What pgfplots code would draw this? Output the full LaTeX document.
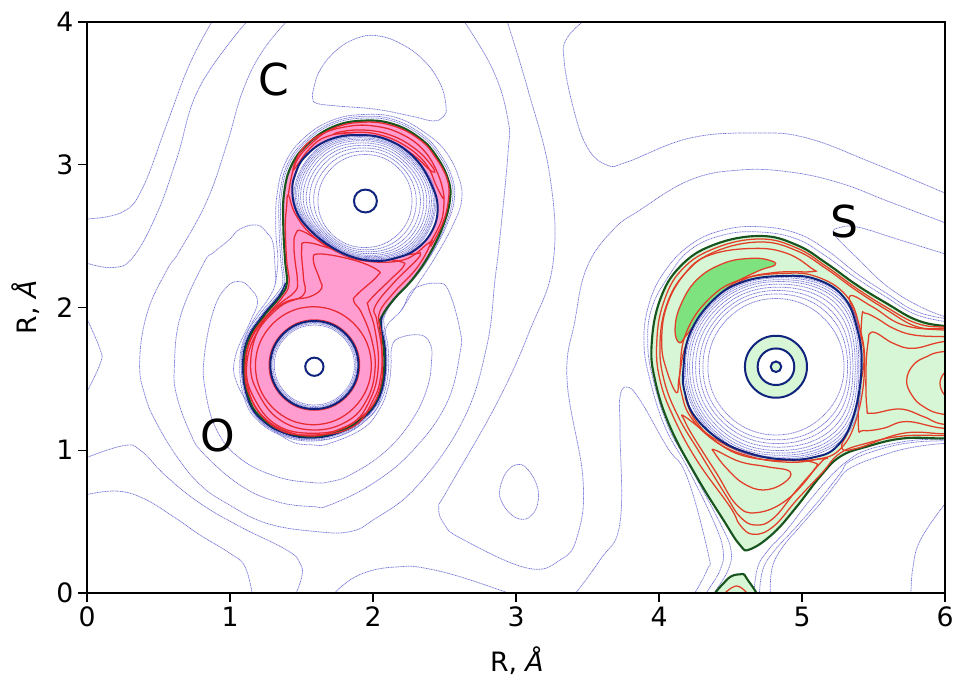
\documentclass[border=0pt]{standalone}
\usepackage{fontspec}
\setmainfont{DejaVu Sans}
\usepackage{pgfplots}
\pgfplotsset{compat=1.18}
\definecolor{blu}{RGB}{118,118,214}
\definecolor{navy1}{RGB}{16,36,125}
\definecolor{grn}{RGB}{24,84,30}
\definecolor{redc}{RGB}{226,62,40}
\definecolor{redp}{RGB}{232,42,50}
\definecolor{pinkf}{RGB}{255,156,208}
\definecolor{lgreen}{RGB}{214,246,214}
\definecolor{mgreen}{RGB}{126,226,126}
\pgfplotsset{
  ob/.style={color=blu,line width=.55pt,dash pattern=on .8pt off .45pt,smooth,tension=.7},
  cb/.style={color=blu,line width=.55pt,dash pattern=on .8pt off .45pt,smooth cycle,tension=.7},
  op/.style={color=redp,line width=.95pt,smooth,tension=.7},
  cp/.style={color=redp,line width=.95pt,smooth cycle,tension=.7},
  og/.style={color=redc,line width=.95pt,smooth,tension=.7},
  cg/.style={color=redc,line width=.95pt,smooth cycle,tension=.7},
  nv/.style={color=navy1,line width=1.5pt,smooth cycle,tension=.7},
  wh/.style={fill=white,draw=none,smooth cycle,tension=.7},
}
\begin{document}
\begin{tikzpicture}
\useasboundingbox (-65.25pt,-62.25pt) rectangle (649.5pt,444.75pt);
\begin{axis}[
  scale only axis,width=643.5pt,height=428.25pt,
  xmin=0,xmax=6,ymin=0,ymax=4,
  xtick={0,1,2,3,4,5,6},ytick={0,1,2,3,4},
  tick align=outside,tick pos=left,
  major tick length=6.75pt,
  every tick/.style={black,line width=1pt},
  axis line style={line width=1.3pt,black},
  axis on top,no markers,
  /pgf/number format/assume math mode=true,
  tick label style={font=\fontsize{20}{24}\selectfont},
  label style={font=\fontsize{20}{20}\selectfont,inner sep=0pt},
  xlabel={R, \textit{Å}},ylabel={R, \textit{Å}},
  xlabel style={at={(axis description cs:0.501,-0.118)},anchor=center},
  ylabel style={at={(axis description cs:-0.071,0.5)},anchor=center},
]
% ---- outer thin contours
\addplot[ob] coordinates {(0,2.62)(.25,2.67)(.39,2.84)(.56,3.29)(.72,3.71)(.89,4.03)};
\addplot[ob] coordinates {(0,2.31)(.18,2.28)(.32,2.35)(.49,2.66)(.63,3.05)(.79,3.55)(1.14,4.03)};
\addplot[ob] coordinates {(1.42,4.03)(1.23,3.80)(1.09,3.52)(.98,3.15)(.84,2.75)(.65,2.40)(.559,2.263)(.420,1.959)(.368,1.609)(.408,1.376)(.488,1.188)(.629,.955)(.79,.76)(.977,.628)(1.257,.488)(1.606,.430)(1.839,.430)(2.002,.512)(2.305,.745)(2.631,1.212)(2.795,1.726)(2.853,2.193)(2.888,2.494)(2.944,3.082)(2.944,3.314)(2.839,3.664)(2.62,4.03)};
\addplot[ob] coordinates {(0,1.92)(.093,1.702)(.093,1.609)(0,1.41)};
\addplot[ob] coordinates {(0,.95)(.254,1.032)(.371,1.002)(.557,.815)(.791,.628)(1.070,.465)(1.397,.301)(1.490,.208)(1.502,.114)(1.45,-.03)};
\addplot[ob] coordinates {(0,.69)(.208,.714)(.394,.663)(.604,.535)(.791,.406)(1.000,.278)(1.105,.184)(1.16,-.03)};
\addplot[ob] coordinates {(1.70,-.03)(1.839,.091)(2.0,.16)(2.189,.184)(2.329,.180)(2.609,.114)(3.03,-.03)};
\addplot[cb] coordinates {(3.016,.901)(3.086,.861)(3.149,.745)(3.152,.628)(3.110,.546)(3.040,.516)(2.958,.558)(2.895,.651)(2.888,.733)(2.935,.850)};
\addplot[ob] coordinates {(2.93,4.03)(3.084,3.524)(3.238,2.914)(3.259,2.312)(3.098,1.842)(2.867,1.331)(2.52,.72)(2.46,.60)(2.50,.48)(2.62,.38)(3.077,.175)(3.308,.231)(3.427,.392)(3.469,.792)(3.357,1.492)(3.413,1.912)(3.497,2.284)(3.678,2.543)(3.867,2.683)(4.217,2.893)(4.566,2.963)(4.916,2.949)(5.266,2.872)(5.615,2.739)(6.05,2.575)};
\addplot[ob] coordinates {(3.50,4.03)(3.357,3.888)(3.336,3.734)(3.399,3.405)(3.497,3.124)(3.636,2.998)(3.776,3.019)(4.217,3.187)(4.685,3.222)(5.035,3.187)(5.497,3.012)(6.05,2.78)};
\addplot[ob] coordinates {(3.38,-.05)(3.587,.231)(3.727,.490)(3.727,1.142)(3.727,1.373)(3.776,1.443)(3.867,1.352)(4.056,1.023)(4.196,.813)(4.343,.280)(4.336,.161)(4.22,-.05)};
\addplot[cb] coordinates {(1.583,3.524)(1.630,3.664)(1.746,3.804)(1.886,3.886)(2.026,3.904)(2.189,3.851)(2.352,3.734)(2.469,3.570)(2.511,3.407)(2.492,3.337)(2.422,3.307)(2.283,3.337)(2.026,3.388)(1.746,3.412)(1.607,3.430)(1.579,3.465)};
\addplot[ob] coordinates {(6.05,2.36)(5.685,2.473)(5.385,2.564)(5.252,2.557)(5.217,2.529)(5.245,2.487)(5.385,2.347)(5.601,2.144)(5.846,1.996)(6.05,1.92)};
\addplot[ob] coordinates {(6.05,.69)(5.839,.392)(5.776,.182)(5.762,-.03)};
% crescents around the O lobe
\addplot[cb] coordinates {(1.072,2.181)(1.142,2.134)(1.193,2.041)(1.142,1.901)(1.037,1.656)(1.049,1.469)(1.189,1.259)(1.40,1.075)(1.583,1.037)(1.699,1.049)(1.932,1.154)(2.049,1.294)(2.107,1.446)(2.126,1.586)(2.130,1.714)(2.177,1.784)(2.328,1.808)(2.398,1.749)(2.410,1.633)(2.375,1.422)(2.258,1.189)(2.072,.979)(1.839,.827)(1.699,.780)(1.583,.773)(1.327,.815)(1.070,.943)(.907,1.142)(.827,1.422)(.820,1.656)(.886,1.983)(.979,2.146)};
\addplot[cb] coordinates {(1.189,2.578)(1.259,2.522)(1.301,2.450)(1.315,2.283)(1.317,2.169)(1.270,2.064)(1.165,1.913)(1.095,1.749)(1.077,1.586)(1.107,1.422)(1.190,1.230)(1.360,1.112)(1.583,1.072)(1.80,1.115)(2.002,1.259)(2.060,1.40)(2.084,1.492)(2.091,1.656)(2.084,1.726)(2.095,1.866)(2.200,1.983)(2.258,2.100)(2.328,2.151)(2.445,2.170)(2.526,2.123)(2.608,1.843)(2.608,1.679)(2.515,1.329)(2.282,1.002)(2.002,.769)(1.699,.617)(1.583,.605)(1.327,.640)(1.070,.756)(.814,.978)(.723,1.119)(.629,1.376)(.611,1.586)(.653,1.936)(.816,2.310)(.881,2.382)(.993,2.473)(1.07,2.55)};
% rings hugging CO
\addplot[ob] coordinates {(2.200,1.983)(2.317,2.170)(2.44,2.36)(2.56,2.58)(2.620,2.753)(2.60,2.91)(2.51,3.09)(2.37,3.22)(2.165,3.33)(1.932,3.352)(1.71,3.31)(1.52,3.19)(1.39,3.02)(1.33,2.80)(1.32,2.55)(1.335,2.33)(1.317,2.169)};
\addplot[cb] coordinates {(1.932,3.339)(2.150,3.315)(2.351,3.207)(2.471,3.073)(2.556,2.902)(2.568,2.753)(2.520,2.588)(2.424,2.397)(2.305,2.224)(2.165,2.072)(2.085,1.952)(2.079,1.866)(2.107,1.702)(2.102,1.510)(2.052,1.338)(1.950,1.211)(1.802,1.114)(1.583,1.065)(1.363,1.102)(1.189,1.214)(1.100,1.365)(1.068,1.585)(1.101,1.787)(1.209,1.954)(1.328,2.097)(1.369,2.179)(1.355,2.333)(1.343,2.566)(1.348,2.795)(1.405,3.012)(1.530,3.173)(1.713,3.295)};
\addplot[cb] coordinates {(1.932,3.327)(2.147,3.303)(2.342,3.198)(2.461,3.066)(2.544,2.899)(2.556,2.753)(2.509,2.584)(2.414,2.390)(2.296,2.216)(2.156,2.064)(2.076,1.945)(2.067,1.866)(2.095,1.702)(2.090,1.512)(2.042,1.344)(1.943,1.220)(1.798,1.125)(1.583,1.077)(1.367,1.113)(1.197,1.222)(1.111,1.369)(1.080,1.585)(1.112,1.781)(1.219,1.947)(1.337,2.088)(1.379,2.175)(1.367,2.333)(1.355,2.566)(1.360,2.797)(1.415,3.006)(1.537,3.164)(1.717,3.284)};
% rings hugging S
\addplot[ob] coordinates {(6.05,1.915)(5.802,1.971)(5.592,2.099)(5.382,2.239)(5.172,2.403)(4.963,2.520)(4.706,2.566)(4.450,2.543)(4.217,2.438)(4.030,2.239)(3.925,2.006)(3.895,1.749)(3.937,1.492)(4.042,1.163)(4.196,.883)(4.378,.511)(4.448,.301)(4.427,.161)(4.336,.007)(4.30,-.07)};
\addplot[ob] coordinates {(6.05,1.895)(5.802,1.948)(5.592,2.071)(5.382,2.204)(5.172,2.356)(4.963,2.480)(4.706,2.529)(4.450,2.508)(4.217,2.403)(4.065,2.216)(3.949,1.994)(3.921,1.749)(3.960,1.492)(4.065,1.163)(4.203,.911)(4.427,.490)(4.503,.301)(4.483,.161)(4.392,.007)(4.36,-.07)};
\addplot[ob] coordinates {(4.66,-.05)(4.688,.173)(4.764,.301)(4.893,.441)(5.056,.652)(5.219,.838)(5.359,.955)(5.45,1.0)(5.569,1.032)(5.802,1.072)(6.05,1.076)};
\addplot[ob] coordinates {(4.70,-.05)(4.725,.161)(4.811,.301)(4.939,.441)(5.102,.628)(5.266,.835)(5.336,.925)(5.569,1.014)(5.802,1.058)(6.05,1.066)};
\addplot[ob] coordinates {(4.78,-.05)(4.788,.161)(4.858,.313)(4.986,.465)(5.149,.652)(5.240,.770)(5.336,.874)(5.569,.967)(5.802,1.026)(6.05,1.052)};
% ---- CO filled region
\addplot[fill=pinkf,draw=grn,line width=1.6pt,smooth cycle,tension=.7] coordinates {(1.932,3.309)(2.142,3.285)(2.329,3.185)(2.446,3.056)(2.527,2.893)(2.538,2.753)(2.492,2.578)(2.399,2.380)(2.282,2.205)(2.142,2.053)(2.061,1.936)(2.049,1.866)(2.077,1.702)(2.072,1.515)(2.026,1.352)(1.932,1.235)(1.792,1.142)(1.583,1.095)(1.373,1.130)(1.210,1.235)(1.128,1.375)(1.098,1.585)(1.128,1.772)(1.233,1.936)(1.350,2.076)(1.397,2.170)(1.385,2.333)(1.373,2.566)(1.378,2.800)(1.431,2.998)(1.548,3.150)(1.723,3.267)};
\addplot[color=navy1,line width=1pt,smooth,tension=.7] coordinates {(2.065,1.94)(2.058,1.866)(2.086,1.702)(2.081,1.513)(2.034,1.348)(1.938,1.228)(1.795,1.134)(1.583,1.086)(1.370,1.122)(1.204,1.229)(1.120,1.372)(1.089,1.585)(1.120,1.776)(1.226,1.941)(1.344,2.082)(1.388,2.172)};
% CO red contours
\addplot[cp] coordinates {(1.443,2.964)(1.501,3.104)(1.629,3.209)(1.816,3.267)(2.002,3.272)(2.189,3.220)(2.352,3.104)(2.457,2.929)(2.496,2.765)(2.445,2.847)(2.375,2.999)(2.235,3.127)(2.049,3.209)(1.862,3.227)(1.676,3.197)(1.559,3.115)};
\addplot[cp] coordinates {(1.734,3.220)(1.909,3.244)(2.119,3.209)(2.305,3.104)(2.422,2.975)(2.403,2.959)(2.259,3.085)(2.049,3.185)(1.862,3.213)};
\addplot[op] coordinates {(2.496,2.765)(2.480,2.613)(2.394,2.445)};
\addplot[op] coordinates {(1.408,2.788)(1.454,2.999)(1.559,3.139)(1.723,3.255)(1.932,3.298)(2.142,3.272)(2.329,3.174)(2.441,3.045)(2.520,2.894)(2.527,2.753)(2.487,2.590)(2.403,2.427)};
\addplot[cp] coordinates {(1.988,1.592)(1.869,1.884)(1.583,2.005)(1.297,1.884)(1.178,1.592)(1.297,1.300)(1.583,1.179)(1.869,1.300)};
\addplot[cp] coordinates {(1.906,1.597)(1.813,1.820)(1.590,1.913)(1.367,1.820)(1.274,1.597)(1.367,1.374)(1.590,1.281)(1.813,1.374)};
\addplot[cp] coordinates {(1.641,2.135)(1.559,2.076)(1.373,2.030)(1.210,1.866)(1.144,1.609)(1.198,1.399)(1.350,1.212)(1.583,1.142)(1.816,1.201)(1.956,1.353)(2.014,1.563)(1.991,1.773)(1.921,1.960)(1.867,2.041)(1.886,2.088)(2.026,2.216)(2.030,2.263)(1.862,2.333)(1.629,2.375)(1.583,2.333)(1.629,2.193)};
\addplot[cp] coordinates {(1.501,2.403)(1.536,2.455)(1.746,2.403)(1.979,2.357)(2.189,2.322)(2.212,2.287)(2.119,2.193)(1.979,2.053)(1.967,2.006)(2.014,1.843)(2.037,1.586)(1.979,1.353)(1.839,1.177)(1.583,1.119)(1.326,1.177)(1.163,1.376)(1.116,1.586)(1.186,1.820)(1.350,2.006)(1.513,2.088)(1.513,2.216)};
\addplot[cp] coordinates {(1.447,2.450)(1.461,2.520)(1.513,2.532)(1.723,2.415)(1.979,2.345)(2.282,2.375)(2.329,2.380)(2.305,2.333)(2.142,2.170)(2.014,2.006)(2.026,1.913)(2.061,1.703)(2.054,1.516)(2.002,1.353)(1.862,1.166)(1.583,1.107)(1.326,1.154)(1.151,1.353)(1.105,1.586)(1.163,1.820)(1.326,2.006)(1.454,2.111)(1.471,2.193)(1.454,2.333)};
\addplot[cp] coordinates {(1.408,2.788)(1.454,2.660)(1.559,2.520)(1.723,2.403)(1.932,2.328)(2.212,2.333)(2.387,2.450)(2.399,2.438)(2.305,2.275)(2.142,2.100)(2.044,1.960)(2.056,1.820)(2.065,1.633)(2.061,1.493)(2.014,1.341)(1.921,1.236)(1.781,1.154)(1.583,1.100)(1.373,1.142)(1.221,1.247)(1.140,1.387)(1.112,1.586)(1.140,1.761)(1.245,1.925)(1.361,2.065)(1.413,2.165)(1.396,2.333)(1.387,2.567)(1.396,2.707)};
% ---- S filled region
\addplot[fill=lgreen,draw=grn,line width=1.6pt,smooth cycle,tension=.7] coordinates {(4.706,2.501)(4.963,2.438)(5.172,2.309)(5.382,2.158)(5.592,2.029)(5.802,1.912)(6.000,1.870)(6.2,1.861)(6.2,1.095)(6.000,1.083)(5.708,1.083)(5.452,1.025)(5.266,.955)(5.126,.815)(4.963,.605)(4.799,.418)(4.636,.306)(4.566,.336)(4.450,.512)(4.263,.815)(4.077,1.165)(3.972,1.492)(3.949,1.749)(4.007,2.053)(4.147,2.286)(4.380,2.438)};
\addplot[fill=lgreen,draw=grn,line width=1.6pt,smooth cycle,tension=.7] coordinates {(4.38,-.07)(4.473,.091)(4.566,.131)(4.613,.103)(4.683,-.07)};
\addplot[og] coordinates {(4.43,-.03)(4.543,.049)(4.64,-.03)};
\addplot[fill=mgreen,draw=redc,line width=.95pt,smooth cycle,tension=.7] coordinates {(4.142,1.754)(4.112,1.842)(4.147,2.006)(4.263,2.193)(4.450,2.309)(4.636,2.344)(4.764,2.333)(4.811,2.298)(4.683,2.251)(4.473,2.134)(4.310,1.959)(4.193,1.807)};
% S red contours
\addplot[cg] coordinates {(4.123,1.403)(4.053,1.562)(4.019,1.749)(4.053,2.006)(4.182,2.239)(4.357,2.368)(4.660,2.414)(4.893,2.380)(5.067,2.274)(5.067,2.251)(4.799,2.244)(4.566,2.181)(4.333,1.983)(4.193,1.749)(4.142,1.516)};
\addplot[og] coordinates {(6.2,1.86)(6.0,1.862)(5.802,1.889)(5.592,2.001)(5.382,2.134)(5.172,2.286)(4.963,2.417)(4.706,2.480)(4.391,2.415)(4.158,2.263)(4.030,2.029)(3.984,1.749)(4.007,1.492)(4.100,1.235)(4.263,.932)(4.496,.605)(4.566,.477)(4.660,.411)(4.799,.465)(4.963,.652)(5.137,.838)(5.266,.979)(5.452,1.049)(5.708,1.100)(6.0,1.103)(6.2,1.103)};
\addplot[og] coordinates {(6.2,1.85)(6.0,1.852)(5.802,1.866)(5.592,1.983)(5.382,2.118)(5.172,2.270)(4.963,2.398)(4.706,2.459)(4.391,2.391)(4.182,2.239)(4.053,2.018)(4.007,1.749)(4.035,1.492)(4.135,1.235)(4.287,.979)(4.473,.675)(4.566,.535)(4.671,.476)(4.799,.523)(4.963,.722)(5.137,.920)(5.161,.941)(4.963,.927)(4.636,.950)(4.415,1.049)(4.252,1.212)(4.182,1.375)};
\addplot[cg] coordinates {(4.182,1.235)(4.403,1.072)(4.636,.971)(4.893,.936)(5.079,.915)(5.084,.862)(4.893,.652)(4.683,.563)(4.543,.617)(4.403,.838)(4.240,1.095)(4.177,1.212)};
\addplot[cg] coordinates {(4.391,1.002)(4.566,.920)(4.753,.885)(4.916,.850)(4.869,.768)(4.729,.722)(4.590,.768)(4.473,.873)(4.391,.978)};
\addplot[cg] coordinates {(5.336,2.081)(5.499,2.001)(5.708,1.877)(6.0,1.842)(6.268,1.84)(6.268,1.115)(6.0,1.115)(5.708,1.119)(5.382,1.013)(5.277,1.020)(5.336,1.165)(5.405,1.445)(5.433,1.679)(5.382,1.912)};
\addplot[cg] coordinates {(5.394,1.177)(5.406,1.586)(5.418,1.925)(5.441,1.960)(5.522,1.925)(5.639,1.854)(5.779,1.808)(5.989,1.796)(6.268,1.796)(6.268,1.154)(5.989,1.154)(5.732,1.201)(5.569,1.154)(5.429,1.138)};
\addplot[cg] coordinates {(5.464,1.773)(5.476,1.820)(5.522,1.820)(5.639,1.749)(5.779,1.714)(5.989,1.761)(6.268,1.784)(6.268,1.166)(5.989,1.182)(5.849,1.236)(5.686,1.289)(5.488,1.259)(5.453,1.306)(5.448,1.586)};
\addplot[cg] coordinates {(5.732,1.493)(5.779,1.598)(5.872,1.656)(5.989,1.691)(6.268,1.703)(6.268,1.236)(5.989,1.252)(5.849,1.306)(5.767,1.388)};
\addplot[og] coordinates {(6.05,1.56)(5.995,1.54)(5.965,1.469)(5.995,1.39)(6.05,1.37)};
\addplot[cg] coordinates {(4.869,2.239)(5.102,2.216)(5.308,2.085)(5.401,1.870)(5.438,1.586)(5.382,1.224)(5.261,1.002)(5.079,.932)(4.869,.918)(4.625,.960)(4.408,1.053)(4.228,1.224)(4.158,1.399)(4.147,1.562)(4.193,1.831)(4.361,2.071)(4.578,2.197)};
% ---- holes
\addplot[wh] coordinates {(1.897,3.208)(2.107,3.173)(2.294,3.045)(2.410,2.858)(2.452,2.695)(2.410,2.531)(2.294,2.403)(2.154,2.345)(2.014,2.326)(1.851,2.356)(1.687,2.438)(1.548,2.555)(1.466,2.671)(1.436,2.811)(1.455,2.928)(1.524,3.056)(1.687,3.173)};
\addplot[wh] coordinates {(1.898,1.597)(1.808,1.815)(1.590,1.905)(1.372,1.815)(1.282,1.597)(1.372,1.379)(1.590,1.289)(1.808,1.379)};
\addplot[wh] coordinates {(4.869,2.221)(5.102,2.197)(5.289,2.076)(5.382,1.866)(5.417,1.586)(5.359,1.235)(5.242,1.025)(5.079,.950)(4.869,.936)(4.636,.978)(4.426,1.072)(4.252,1.235)(4.182,1.399)(4.170,1.562)(4.217,1.819)(4.380,2.053)(4.590,2.181)};
% C rings
\addplot[cb] coordinates {(2.273,2.746)(2.176,2.978)(1.944,3.072)(1.712,2.978)(1.615,2.746)(1.712,2.514)(1.944,2.420)(2.176,2.514)};
\addplot[cb] coordinates {(2.303,2.750)(2.190,2.996)(1.944,3.096)(1.693,3.001)(1.585,2.750)(1.700,2.506)(1.944,2.404)(2.198,2.496)};
\addplot[cb] coordinates {(2.332,2.754)(2.203,3.013)(1.944,3.118)(1.675,3.023)(1.556,2.754)(1.689,2.499)(1.944,2.390)(2.218,2.480)};
\addplot[cb] coordinates {(2.355,2.757)(2.214,3.027)(1.944,3.136)(1.660,3.041)(1.533,2.757)(1.680,2.493)(1.944,2.378)(2.235,2.466)};
\addplot[cb] coordinates {(2.376,2.760)(2.224,3.040)(1.944,3.153)(1.646,3.058)(1.512,2.760)(1.671,2.487)(1.944,2.367)(2.250,2.454)};
\addplot[cb] coordinates {(2.394,2.763)(2.232,3.051)(1.944,3.168)(1.635,3.072)(1.494,2.763)(1.664,2.483)(1.944,2.358)(2.263,2.444)};
\addplot[cb] coordinates {(2.408,2.765)(2.239,3.060)(1.944,3.179)(1.626,3.083)(1.480,2.765)(1.659,2.480)(1.944,2.351)(2.273,2.436)};
\addplot[cb] coordinates {(2.421,2.766)(2.245,3.067)(1.944,3.188)(1.618,3.092)(1.467,2.766)(1.654,2.476)(1.944,2.344)(2.282,2.428)};
\addplot[cb] coordinates {(2.431,2.768)(2.250,3.074)(1.944,3.197)(1.611,3.101)(1.457,2.768)(1.650,2.474)(1.944,2.339)(2.290,2.422)};
\addplot[cb] coordinates {(2.440,2.769)(2.254,3.079)(1.944,3.204)(1.606,3.107)(1.448,2.769)(1.646,2.471)(1.944,2.334)(2.296,2.417)};
% O rings
\addplot[cb] coordinates {(1.870,1.597)(1.788,1.795)(1.590,1.877)(1.392,1.795)(1.310,1.597)(1.392,1.399)(1.590,1.317)(1.788,1.399)};
\addplot[cb] coordinates {(1.880,1.597)(1.795,1.802)(1.590,1.887)(1.385,1.802)(1.300,1.597)(1.385,1.392)(1.590,1.307)(1.795,1.392)};
\addplot[cb] coordinates {(1.888,1.597)(1.801,1.808)(1.590,1.895)(1.379,1.808)(1.292,1.597)(1.379,1.386)(1.590,1.299)(1.801,1.386)};
% S rings
\addplot[cb] coordinates {(5.294,1.585)(5.155,1.922)(4.818,2.063)(4.481,1.922)(4.342,1.585)(4.481,1.248)(4.818,1.107)(5.155,1.248)};
\addplot[cb] coordinates {(5.319,1.584)(5.183,1.954)(4.813,2.095)(4.454,1.943)(4.307,1.584)(4.454,1.225)(4.813,1.073)(5.183,1.214)};
\addplot[cb] coordinates {(5.338,1.583)(5.204,1.977)(4.810,2.119)(4.435,1.958)(4.282,1.583)(4.435,1.208)(4.810,1.047)(5.204,1.189)};
\addplot[cb] coordinates {(5.356,1.582)(5.225,2.001)(4.806,2.142)(4.415,1.973)(4.256,1.582)(4.415,1.191)(4.806,1.022)(5.225,1.163)};
\addplot[cb] coordinates {(5.372,1.581)(5.243,2.021)(4.803,2.163)(4.398,1.986)(4.234,1.581)(4.398,1.176)(4.803,.999)(5.243,1.141)};
\addplot[cb] coordinates {(5.386,1.581)(5.258,2.039)(4.800,2.181)(4.383,1.998)(4.214,1.581)(4.383,1.164)(4.800,.981)(5.258,1.123)};
\addplot[cb] coordinates {(5.397,1.580)(5.270,2.052)(4.798,2.194)(4.371,2.007)(4.199,1.580)(4.371,1.153)(4.798,.966)(5.270,1.108)};
\addplot[cb] coordinates {(5.407,1.580)(5.281,2.065)(4.796,2.207)(4.361,2.015)(4.185,1.580)(4.361,1.145)(4.796,.953)(5.281,1.095)};
\addplot[cb] coordinates {(5.415,1.579)(5.290,2.074)(4.795,2.216)(4.353,2.021)(4.175,1.579)(4.353,1.137)(4.795,.942)(5.290,1.084)};
% hole boundaries
\addplot[nv] coordinates {(1.897,3.208)(2.107,3.173)(2.294,3.045)(2.410,2.858)(2.452,2.695)(2.410,2.531)(2.294,2.403)(2.154,2.345)(2.014,2.326)(1.851,2.356)(1.687,2.438)(1.548,2.555)(1.466,2.671)(1.436,2.811)(1.455,2.928)(1.524,3.056)(1.687,3.173)};
\addplot[nv] coordinates {(1.898,1.597)(1.808,1.815)(1.590,1.905)(1.372,1.815)(1.282,1.597)(1.372,1.379)(1.590,1.289)(1.808,1.379)};
\addplot[nv] coordinates {(4.869,2.221)(5.102,2.197)(5.289,2.076)(5.382,1.866)(5.417,1.586)(5.359,1.235)(5.242,1.025)(5.079,.950)(4.869,.936)(4.636,.978)(4.426,1.072)(4.252,1.235)(4.182,1.399)(4.170,1.562)(4.217,1.819)(4.380,2.053)(4.590,2.181)};
% nuclei circles
\addplot[nv,fill=white] coordinates {(2.027,2.746)(2.004,2.803)(1.947,2.826)(1.890,2.803)(1.867,2.746)(1.890,2.689)(1.947,2.666)(2.004,2.689)};
\addplot[nv,fill=white] coordinates {(1.654,1.585)(1.635,1.630)(1.590,1.649)(1.545,1.630)(1.526,1.585)(1.545,1.540)(1.590,1.521)(1.635,1.540)};
\addplot[nv,fill=lgreen] coordinates {(5.035,1.585)(4.971,1.738)(4.818,1.802)(4.665,1.738)(4.601,1.585)(4.665,1.432)(4.818,1.368)(4.971,1.432)};
\addplot[nv,fill=white] coordinates {(4.946,1.585)(4.909,1.676)(4.818,1.713)(4.727,1.676)(4.690,1.585)(4.727,1.494)(4.818,1.457)(4.909,1.494)};
\addplot[nv,fill=lgreen] coordinates {(4.855,1.585)(4.844,1.611)(4.818,1.622)(4.792,1.611)(4.781,1.585)(4.792,1.559)(4.818,1.548)(4.844,1.559)};
% atom labels
\node[font=\fontsize{33}{33}\selectfont,inner sep=0pt] at (axis cs:1.304,3.60) {C};
\node[font=\fontsize{33}{33}\selectfont,inner sep=0pt] at (axis cs:.916,1.103) {O};
\node[font=\fontsize{33}{33}\selectfont,inner sep=0pt] at (axis cs:5.294,2.606) {S};
\end{axis}
\end{tikzpicture}
\end{document}
